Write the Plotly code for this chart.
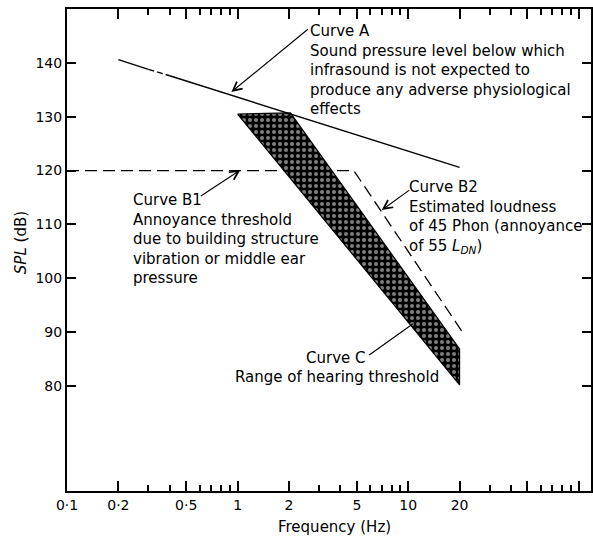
import plotly.graph_objects as go

# ---- data ----
freq_a = [0.2, 0.3, 0.4, 20]          # Curve A (Hz)
spl_a = [140.6, 138.8, 137.6, 120.6]  # dB
freq_b = [0.1, 4.8, 21]               # Curves B1 / B2
spl_b = [120, 120, 89.8]
freq_c = [1.0, 2.04, 20, 20, 1.0]     # Curve C band (hearing threshold range)
spl_c = [130.5, 130.7, 86.9, 80.2, 130.5]

x_major = [0.1, 0.2, 0.5, 1, 2, 5, 10, 20, 50, 100]
x_major_text = ["0·1", "0·2", "0·5", "1", "2", "5", "10", "20", "", ""]
x_minor = [0.3, 0.4, 0.6, 0.7, 0.8, 0.9, 3, 4, 6, 7, 8, 9, 30, 40, 60, 70, 80, 90]
y_ticks = [80, 90, 100, 110, 120, 130, 140]

FONT = "DejaVu Sans"
L, R, T, B = 67, 593, 9, 491
W, H = R - L, B - T
XR = [-1, 2.0715]


def px(x):
    return (x - L) / W


def py(y):
    return (B - y) / H


fig = go.Figure()

# Curve B1 + B2 (dashed)
fig.add_trace(go.Scatter(x=freq_b, y=spl_b, mode="lines",
                         line=dict(color="black", width=1.3, dash="12px,6px"),
                         hoverinfo="skip", showlegend=False))

# Curve C (hatched band)
fig.add_trace(go.Scatter(x=freq_c, y=spl_c, mode="lines", fill="toself",
                         fillcolor="black",
                         fillpattern=dict(shape=".", bgcolor="black", fgcolor="white",
                                          size=6, solidity=0.35),
                         line=dict(color="black", width=1.2),
                         hoverinfo="skip", showlegend=False))

# Curve A solid parts
fig.add_trace(go.Scatter(x=[freq_a[0], freq_a[1], None, freq_a[2], freq_a[3]],
                         y=[spl_a[0], spl_a[1], None, spl_a[2], spl_a[3]],
                         mode="lines", line=dict(color="black", width=1.4),
                         hoverinfo="skip", showlegend=False))
# Curve A broken part
fig.add_trace(go.Scatter(x=freq_a[1:3], y=spl_a[1:3], mode="lines",
                         line=dict(color="black", width=1.4, dash="6px,3px"),
                         hoverinfo="skip", showlegend=False))

txt = dict(family=FONT, size=15, color="black")
ann = []


def text(t, x, y, xanchor="left"):
    ann.append(dict(text=t, x=px(x), y=py(y), xref="paper", yref="paper",
                    xanchor=xanchor, yanchor="middle", align="left",
                    showarrow=False, font=txt))


def arrow(tip, tail, head=5):
    ann.append(dict(text="", x=px(tip[0]), y=py(tip[1]), xref="paper", yref="paper",
                    ax=tail[0] - tip[0], ay=tail[1] - tip[1],
                    showarrow=True, arrowhead=head, arrowsize=1.6,
                    arrowwidth=1.1, arrowcolor="black"))


text("Curve A<br>Sound pressure level below which<br>infrasound is not expected to"
     "<br>produce any adverse physiological<br>effects", 309, 69.5)
text("Curve B1<br>Annoyance threshold<br>due to building structure"
     "<br>vibration or middle ear<br>pressure", 131, 239)
text("Curve B2<br>Estimated loudness<br>of 45 Phon (annoyance"
     "<br>of 55 <i>L</i><sub><i>DN</i></sub>)", 408, 217)
text("Curve C", 369, 358, xanchor="right")
text("Range of hearing threshold", 234, 377)

arrow((232, 92), (310, 28))
arrow((241, 170), (200, 197))
arrow((383, 210), (412, 189))
arrow((414, 324), (369, 356), head=0)

ann.append(dict(text="Frequency (Hz)", x=px(336), y=py(527), xref="paper", yref="paper",
                showarrow=False, font=txt, xanchor="center", yanchor="middle"))
ann.append(dict(text="<i>SPL</i> (dB)", x=px(21), y=py(243), xref="paper", yref="paper",
                showarrow=False, font=txt, textangle=-90,
                xanchor="center", yanchor="middle"))

fig.update_layout(
    width=593, height=536,
    margin=dict(l=L, r=593 - R, t=T, b=536 - B),
    paper_bgcolor="white", plot_bgcolor="white",
    font=dict(family=FONT, size=14, color="black"),
    annotations=ann,
    xaxis=dict(type="log", range=XR, showgrid=False, zeroline=False,
               showline=True, linecolor="black", linewidth=2, mirror="ticks",
               ticks="inside", ticklen=10, tickwidth=2, tickcolor="black",
               tickmode="array", tickvals=x_major, ticktext=x_major_text,
               tickfont=dict(family=FONT, size=14),
               minor=dict(tickmode="array", tickvals=x_minor, ticks="inside",
                          ticklen=6, tickwidth=1.5, tickcolor="black", showgrid=False)),
    yaxis=dict(range=[60.5, 150], showgrid=False, zeroline=False,
               showline=True, linecolor="black", linewidth=2, mirror="ticks",
               ticks="inside", ticklen=9, tickwidth=2, tickcolor="black",
               tickmode="array", tickvals=y_ticks,
               tickfont=dict(family=FONT, size=14)),
)

fig.write_html("out.html")
